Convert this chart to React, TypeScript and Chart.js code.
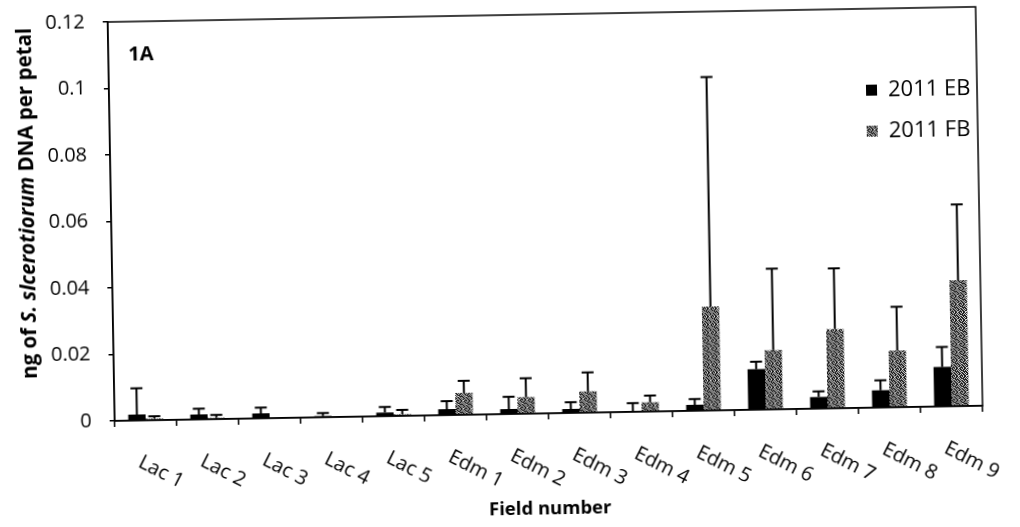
import { useEffect, useRef } from 'react';
import { Chart, registerables } from 'chart.js';

Chart.register(...registerables);

// Field sites along the x axis
const categories = [
  'Lac 1', 'Lac 2', 'Lac 3', 'Lac 4', 'Lac 5',
  'Edm 1', 'Edm 2', 'Edm 3', 'Edm 4', 'Edm 5', 'Edm 6', 'Edm 7', 'Edm 8', 'Edm 9',
];

const seriesNames = ['2011 EB', '2011 FB'];

// Mean DNA per petal (ng) and upper error (ng)
const ebMean = [0.0018, 0.0015, 0.0015, 0.0004, 0.0011, 0.0018, 0.0015, 0.0012, 0.0002, 0.0018, 0.0122, 0.0035, 0.0052, 0.0119];
const ebErr = [0.0079, 0.0017, 0.0017, 0.0009, 0.0017, 0.0024, 0.0037, 0.0020, 0.0024, 0.0017, 0.0022, 0.0017, 0.0030, 0.0060];
const fbMean = [0.0005, 0.0004, 0, 0, 0.0005, 0.0066, 0.0050, 0.0064, 0.0028, 0.0313, 0.0178, 0.0238, 0.0171, 0.0379];
const fbErr = [0.0007, 0.0009, 0, 0, 0.0013, 0.0036, 0.0057, 0.0057, 0.0020, 0.0690, 0.0245, 0.0183, 0.0131, 0.0228];

const yTicks = [0, 0.02, 0.04, 0.06, 0.08, 0.1, 0.12];

// Stippled fill used for the FB series
const stipple = [
  '10110110',
  '01101011',
  '11010101',
  '01111010',
  '10101101',
  '11010110',
  '01101101',
  '10110011',
];

const FONT = '"Open Sans", "Noto Sans", sans-serif';

export default function App() {
  const ref = useRef<HTMLCanvasElement>(null);

  useEffect(() => {
    const canvas = ref.current!;
    const tile = document.createElement('canvas');
    tile.width = 8;
    tile.height = 8;
    const tctx = tile.getContext('2d')!;
    stipple.forEach((row, y) =>
      [...row].forEach((c, x) => {
        tctx.fillStyle = c === '1' ? '#1a1a1a' : '#e0e0e0';
        tctx.fillRect(x, y, 1, 1);
      })
    );
    const pattern = canvas.getContext('2d')!.createPattern(tile, 'repeat')!;
    const fills: (string | CanvasPattern)[] = ['#000000', pattern];
    const errs = [ebErr, fbErr];

    const overlay = {
      id: 'overlay',
      afterDatasetsDraw(chart: any) {
        const ctx = chart.ctx as CanvasRenderingContext2D;
        const ys = chart.scales.y;
        ctx.save();
        ctx.strokeStyle = '#000';
        ctx.lineWidth = 2;
        chart.data.datasets.forEach((ds: any, di: number) => {
          const meta = chart.getDatasetMeta(di);
          meta.data.forEach((bar: any, i: number) => {
            const e = errs[di][i];
            if (!e) return;
            const v = ds.data[i] as number;
            const y0 = ys.getPixelForValue(v);
            const y1 = ys.getPixelForValue(v + e);
            ctx.beginPath();
            ctx.moveTo(bar.x, y0);
            ctx.lineTo(bar.x, y1);
            ctx.moveTo(bar.x - 6, y1);
            ctx.lineTo(bar.x + 6, y1);
            ctx.stroke();
          });
        });
        ctx.restore();
      },
      afterDraw(chart: any) {
        const ctx = chart.ctx as CanvasRenderingContext2D;
        const a = chart.chartArea;
        const xs = chart.scales.x;
        ctx.save();
        // plot frame
        ctx.strokeStyle = '#000';
        ctx.lineWidth = 1.5;
        ctx.strokeRect(a.left, a.top, a.right - a.left, a.bottom - a.top);

        ctx.fillStyle = '#000';
        // category labels, slanted downwards
        ctx.font = `20px ${FONT}`;
        ctx.textAlign = 'left';
        ctx.textBaseline = 'top';
        categories.forEach((c, i) => {
          const x = xs.getPixelForValue(i);
          ctx.save();
          ctx.translate(x - 2, a.bottom + 32);
          ctx.rotate((28 * Math.PI) / 180);
          ctx.fillText(c, 0, 0);
          ctx.restore();
        });

        // x axis title
        ctx.font = `bold 18.5px ${FONT}`;
        ctx.textAlign = 'center';
        ctx.textBaseline = 'middle';
        ctx.fillText('Field number', (a.left + a.right) / 2, 510);

        // y axis title with italic species name
        const parts: [string, string][] = [
          ['ng of ', `bold 20.5px ${FONT}`],
          ['S. slcerotiorum', `italic bold 20.5px ${FONT}`],
          [' DNA per petal', `bold 20.5px ${FONT}`],
        ];
        const widths = parts.map(([t, f]) => {
          ctx.font = f;
          return ctx.measureText(t).width;
        });
        const total = widths.reduce((s, w) => s + w, 0);
        ctx.save();
        ctx.translate(29, 195);
        ctx.rotate(-Math.PI / 2);
        ctx.textAlign = 'left';
        let px = -total / 2;
        parts.forEach(([t, f], k) => {
          ctx.font = f;
          ctx.fillText(t, px, 0);
          px += widths[k];
        });
        ctx.restore();

        // panel tag
        ctx.font = `bold 20px ${FONT}`;
        ctx.textAlign = 'left';
        ctx.fillText('1A', 132, 48);

        // legend
        ctx.font = `22px ${FONT}`;
        seriesNames.forEach((name, k) => {
          const cy = 96 + k * 41;
          ctx.fillStyle = fills[k] as any;
          ctx.fillRect(869, cy - 5, 11, 11);
          ctx.fillStyle = '#000';
          ctx.fillText(name, 891, cy + 1);
        });
        ctx.restore();
      },
    };

    const chart = new Chart(canvas, {
      type: 'bar',
      data: {
        labels: categories,
        datasets: [
          { label: seriesNames[0], data: ebMean, backgroundColor: fills[0] as any, borderWidth: 0 },
          { label: seriesNames[1], data: fbMean, backgroundColor: fills[1] as any, borderWidth: 0 },
        ],
      },
      options: {
        animation: false,
        responsive: false,
        maintainAspectRatio: false,
        layout: { padding: { left: 0, top: 15, right: 40, bottom: 0 } },
        datasets: { bar: { categoryPercentage: 0.56, barPercentage: 1 } },
        plugins: { legend: { display: false }, tooltip: { enabled: false } },
        scales: {
          x: {
            grid: { offset: true, drawOnChartArea: false, drawTicks: true, tickLength: 6, color: '#000', lineWidth: 1.5 },
            border: { display: true, color: '#000', width: 1.5 },
            ticks: { display: false },
            afterFit: (s: any) => {
              s.height = 113;
              s.paddingLeft = 0;
              s.paddingRight = 0;
            },
          },
          y: {
            min: 0,
            max: 0.12,
            afterBuildTicks: (s: any) => { s.ticks = yTicks.map((v) => ({ value: v })); },
            grid: { drawOnChartArea: false, drawTicks: true, tickLength: 5, color: '#000', lineWidth: 1.5 },
            border: { display: true, color: '#000', width: 1.5 },
            ticks: {
              padding: 18,
              color: '#000',
              font: { family: FONT, size: 20 },
              callback: (v: any) => String(+Number(v).toFixed(2)),
            },
            afterFit: (s: any) => {
              s.width = 112;
              s.paddingTop = 0;
              s.paddingBottom = 0;
            },
          },
        },
      },
      plugins: [overlay],
    });
    return () => chart.destroy();
  }, []);

  return (
    <div
      style={{
        position: 'fixed',
        left: 0,
        top: 0,
        width: 1020,
        height: 527,
        background: '#fff',
        transform: 'rotate(-1deg)',
      }}
    >
      <canvas ref={ref} width={1020} height={527} style={{ display: 'block' }} />
    </div>
  );
}
